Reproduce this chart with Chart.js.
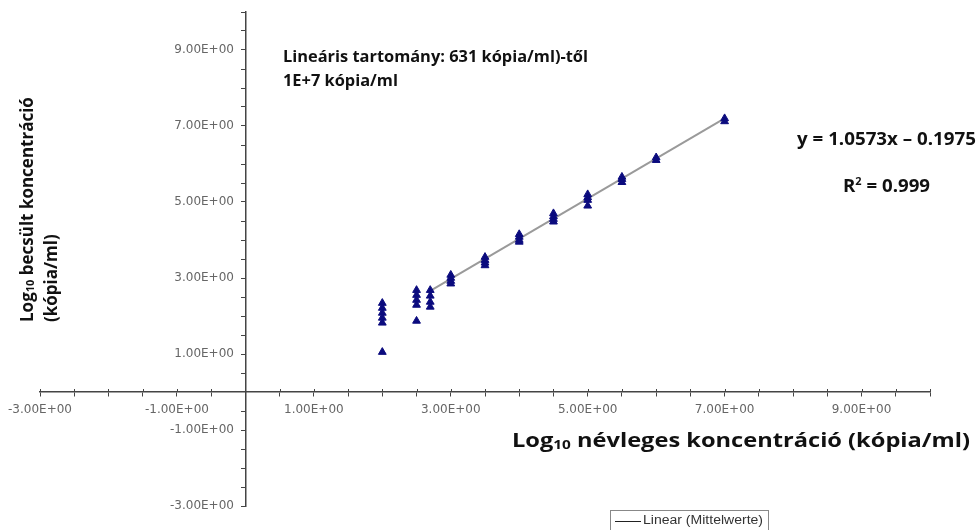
<!DOCTYPE html>
<html lang="hu">
<head>
    <meta charset="UTF-8">
    <title>Lineáris tartomány</title>
    <style>
        html, body { margin: 0; padding: 0; background: #fff; }
        .wrap { width: 978px; height: 530px; }
    </style>
</head>
<body>
    <div class="wrap">
        <canvas id="linChart" width="978" height="530"></canvas>
    </div>

    <script src="https://cdn.jsdelivr.net/npm/chart.js"></script>
    <script>
        // névleges koncentrációk (log10) es a mert ertekek
        const nominalLog = [2, 2.5, 2.7, 3, 3.5, 4, 4.5, 5, 5.5, 6, 7];
        const measuredLog = [
            [2.34, 2.21, 2.08, 1.95, 1.82, 1.05],
            [2.68, 2.55, 2.42, 2.29, 1.87],
            [2.68, 2.53, 2.37, 2.24],
            [3.08, 3.0, 2.92, 2.85],
            [3.55, 3.47, 3.4, 3.33],
            [4.15, 4.08, 4.0, 3.95],
            [4.7, 4.62, 4.55, 4.48],
            [5.2, 5.12, 5.05, 4.9],
            [5.66, 5.6, 5.52],
            [6.17, 6.1],
            [7.2, 7.12]
        ];
        // trendvonal vegpontjai
        const trendX = [2.7, 7];
        const trendY = [2.66, 7.2];
        const tickValues = [-3, -1, 1, 3, 5, 7, 9];

        const points = [];
        nominalLog.forEach((x, i) => {
            measuredLog[i].forEach(y => points.push({ x: x, y: y }));
        });

        function tickLabel(v) {
            if (tickValues.indexOf(v) === -1) return '';
            return v.toFixed(2) + 'E+00';
        }

        // szoveg reszekbol (also/felso index miatt)
        function partsWidth(c, parts, weight) {
            let w = 0;
            parts.forEach(p => {
                c.font = weight + ' ' + p.size + 'px "Open Sans"';
                w += c.measureText(p.t).width;
            });
            return w;
        }
        function drawParts(c, x, y, parts, weight) {
            weight = weight || 'bold';
            parts.forEach(p => {
                c.font = weight + ' ' + p.size + 'px "Open Sans"';
                c.fillText(p.t, x, y + (p.dy || 0));
                x += c.measureText(p.t).width;
            });
        }
        // vizszintesen szethuzott szoveg, adott szelessegre
        function drawWide(c, parts, x, y, width, alignRight) {
            const w = partsWidth(c, parts, 'bold');
            const s = width / w;
            c.save();
            c.translate(alignRight ? x - width : x, y);
            c.scale(s, 1);
            drawParts(c, 0, 0, parts);
            c.restore();
            return s;
        }

        const textPlugin = {
            id: 'textPlugin',
            afterDraw(chart) {
                const c = chart.ctx;
                const xs = chart.scales.x;
                const ys = chart.scales.y;
                c.save();

                // x tengely osztasai felfele is
                c.strokeStyle = '#444';
                c.lineWidth = 1;
                const y0 = ys.getPixelForValue(0);
                xs.ticks.forEach(t => {
                    const px = Math.round(xs.getPixelForValue(t.value)) + 0.5;
                    c.beginPath();
                    c.moveTo(px, y0 - 3);
                    c.lineTo(px, y0);
                    c.stroke();
                });

                c.fillStyle = '#111';
                c.textBaseline = 'middle';
                c.textAlign = 'left';

                // x tengely cime
                drawWide(c, [
                    { t: 'Log', size: 20 },
                    { t: '10', size: 13, dy: 4 },
                    { t: ' névleges koncentráció (kópia/ml)', size: 20 }
                ], 512, 441, 458);

                // y tengely cime (elforgatva)
                c.save();
                c.translate(28, 322);
                c.rotate(-Math.PI / 2);
                drawParts(c, 0, 0, [
                    { t: 'Log', size: 17 },
                    { t: '10', size: 11, dy: 3 },
                    { t: ' becsült koncentráció', size: 17 }
                ]);
                drawParts(c, 0, 24, [{ t: '(kópia/ml)', size: 17 }]);
                c.restore();

                // megjegyzesek
                const s = drawWide(c, [{ t: 'Lineáris tartomány: 631 kópia/ml)-től', size: 16 }], 283, 57, 305);
                c.save();
                c.translate(283, 81);
                c.scale(s, 1);
                drawParts(c, 0, 0, [{ t: '1E+7 kópia/ml', size: 16 }]);
                c.restore();
                drawWide(c, [{ t: 'y = 1.0573x \u2013 0.1975', size: 17 }], 976, 140, 179, true);
                drawWide(c, [
                    { t: 'R', size: 17 },
                    { t: '2', size: 10, dy: -5 },
                    { t: ' = 0.999', size: 17 }
                ], 843, 187, 87);

                // jelmagyarazat
                const ds = chart.data.datasets[1];
                c.strokeStyle = '#888';
                c.strokeRect(610.5, 510.5, 158, 24);
                c.strokeStyle = '#222';
                c.beginPath();
                c.moveTo(615, 521.5);
                c.lineTo(641, 521.5);
                c.stroke();
                c.fillStyle = '#333';
                c.font = '12px "Liberation Sans"';
                const lw = c.measureText(ds.label).width;
                c.translate(643, 521);
                c.scale(120 / lw, 1);
                c.fillText(ds.label, 0, 0);
                c.restore();
            }
        };

        const axisGrid = {
            display: true,
            drawOnChartArea: false,
            drawTicks: true,
            tickLength: 4,
            color: '#444'
        };

        new Chart(document.getElementById('linChart'), {
            type: 'scatter',
            data: {
                datasets: [
                    {
                        label: 'Mért értékek',
                        data: points,
                        pointStyle: 'triangle',
                        pointRadius: 4.5,
                        backgroundColor: '#0b0b7e',
                        borderColor: '#0b0b7e',
                        borderWidth: 1,
                        order: 0
                    },
                    {
                        type: 'line',
                        label: 'Linear (Mittelwerte)',
                        data: trendX.map((x, i) => ({ x: x, y: trendY[i] })),
                        borderColor: '#9a9a9a',
                        borderWidth: 2,
                        pointRadius: 0,
                        order: 1
                    }
                ]
            },
            options: {
                responsive: false,
                animation: false,
                layout: { padding: { left: 40, right: 48, top: 12, bottom: 24 } },
                plugins: {
                    legend: { display: false },
                    tooltip: { enabled: false }
                },
                scales: {
                    x: {
                        type: 'linear',
                        position: { y: 0 },
                        min: -3,
                        max: 10,
                        grid: axisGrid,
                        border: { display: true, color: '#444', width: 1.5 },
                        ticks: {
                            stepSize: 0.5,
                            autoSkip: false,
                            maxRotation: 0,
                            padding: 7,
                            color: '#666',
                            font: { family: 'DejaVu Sans', size: 12 },
                            callback: tickLabel
                        }
                    },
                    y: {
                        type: 'linear',
                        position: { x: 0 },
                        min: -3,
                        max: 10,
                        grid: axisGrid,
                        border: { display: true, color: '#444', width: 1.5 },
                        ticks: {
                            stepSize: 0.5,
                            autoSkip: false,
                            color: '#666',
                            font: { family: 'DejaVu Sans', size: 12 },
                            // jobbra igazitott cimkek: terkoz a tengelytol
                            callback: v => {
                                const l = tickLabel(v);
                                return l ? l + '   ' : '';
                            }
                        }
                    }
                }
            },
            plugins: [textPlugin]
        });
    </script>
</body>
</html>
